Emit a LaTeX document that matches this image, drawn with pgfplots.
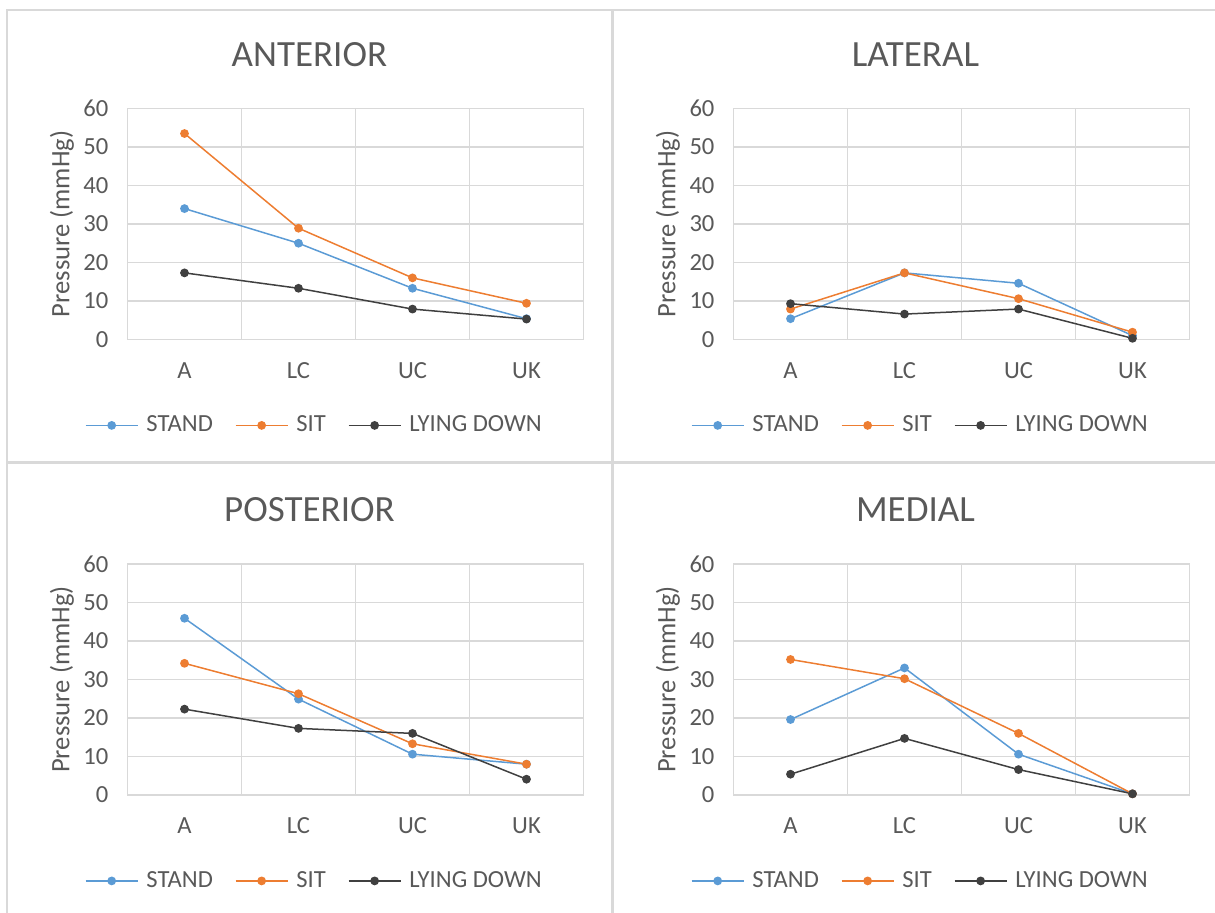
\documentclass[border=0pt]{standalone}
\usepackage{pgfplots}
\pgfplotsset{compat=1.18}
\usepackage{pgfplotstable}
\usepackage{fontspec}
\setmainfont{Carlito}
\definecolor{standc}{HTML}{5B9BD5}
\definecolor{sitc}{HTML}{ED7D31}
\definecolor{lyingc}{HTML}{404040}
\definecolor{txt}{HTML}{595959}
\definecolor{grd}{HTML}{D9D9D9}

\pgfplotstableread{
x stand sit lying
0 34.0 53.5 17.3
1 25.0 28.9 13.3
2 13.3 16.0 7.9
3 5.4 9.4 5.3
}\anterior
\pgfplotstableread{
x stand sit lying
0 5.4 7.9 9.3
1 17.3 17.3 6.6
2 14.6 10.6 7.9
3 1.0 1.9 0.3
}\lateral
\pgfplotstableread{
x stand sit lying
0 45.9 34.2 22.3
1 24.9 26.3 17.3
2 10.6 13.3 16.0
3 8.0 8.0 4.1
}\posterior
\pgfplotstableread{
x stand sit lying
0 19.6 35.2 5.4
1 33.0 30.2 14.7
2 10.6 16.0 6.6
3 0.3 0.3 0.3
}\medial

\pgfplotsset{
  panel/.style={
    scale only axis, width=228pt, height=115.5pt,
    anchor=south west,
    xmin=-0.5, xmax=3.5, ymin=0, ymax=60, ytick={0,10,...,60},
    xtick={0,1,2,3}, xticklabels={A,LC,UC,UK},
    extra x ticks={-0.5,0.5,1.5,2.5,3.5}, extra x tick labels={},
    extra x tick style={grid=major},
    ymajorgrids,
    major grid style={draw=grd, line width=0.9pt},
    major tick length=0pt,
    axis line style={draw=grd, line width=0.9pt},
    /pgf/number format/assume math mode=true,
    tick label style={font=\fontsize{12.3}{14}\selectfont, text=txt},
    yticklabel style={xshift=-6pt},
    xticklabel style={anchor=base, yshift=-19.4pt},
    ylabel={Pressure (mmHg)},
    ylabel style={at={(axis description cs:-0.144,0.5)}, anchor=center, font=\fontsize{13.3}{15}\selectfont, text=txt},
    title style={at={(axis description cs:0.399,1.131)}, anchor=base, font=\fontsize{18.5}{20}\selectfont, text=txt},
    legend columns=3,
    legend style={draw=none, fill=none, at={(axis description cs:0.412,-0.372)}, anchor=center,
      font=\fontsize{12.3}{14}\selectfont, text=txt,
      nodes={inner xsep=2pt},
      /tikz/every even column/.append style={column sep=9pt}},
    legend image code/.code={\draw[mark repeat=2,mark phase=2] plot coordinates {(0pt,0pt)(13pt,0pt)(26pt,0pt)};\path (28pt,0pt);},
  },
  sstand/.style={standc, line width=0.75pt, mark=*, mark size=1.8pt, mark options={fill=standc, draw=standc}},
  ssit/.style={sitc, line width=0.75pt, mark=*, mark size=1.8pt, mark options={fill=sitc, draw=sitc}},
  slying/.style={lyingc, line width=0.75pt, mark=*, mark size=1.8pt, mark options={fill=lyingc, draw=lyingc}},
}

\begin{document}
\begin{tikzpicture}
\path[use as bounding box] (0pt,0pt) rectangle (607.5pt,456.5pt);
\draw[grd, line width=1.3pt] (3.5pt,0pt) -- (3.5pt,451.5pt) -- (607.5pt,451.5pt);
\draw[grd, line width=1.3pt] (306.25pt,0pt) -- (306.25pt,451.5pt);
\draw[grd, line width=1.3pt] (3.5pt,225.25pt) -- (607.5pt,225.25pt);

\begin{axis}[panel, at={(63.75pt,286.75pt)}, title={ANTERIOR}]
\addplot[sstand] table[x=x,y=stand]{\anterior};
\addplot[ssit] table[x=x,y=sit]{\anterior};
\addplot[slying] table[x=x,y=lying]{\anterior};
\legend{STAND,SIT,LYING DOWN}
\end{axis}

\begin{axis}[panel, at={(366.75pt,286.75pt)}, title={LATERAL}]
\addplot[sstand] table[x=x,y=stand]{\lateral};
\addplot[ssit] table[x=x,y=sit]{\lateral};
\addplot[slying] table[x=x,y=lying]{\lateral};
\legend{STAND,SIT,LYING DOWN}
\end{axis}

\begin{axis}[panel, at={(63.75pt,59pt)}, title={POSTERIOR}]
\addplot[sstand] table[x=x,y=stand]{\posterior};
\addplot[ssit] table[x=x,y=sit]{\posterior};
\addplot[slying] table[x=x,y=lying]{\posterior};
\legend{STAND,SIT,LYING DOWN}
\end{axis}

\begin{axis}[panel, at={(366.75pt,59pt)}, title={MEDIAL}]
\addplot[sstand] table[x=x,y=stand]{\medial};
\addplot[ssit] table[x=x,y=sit]{\medial};
\addplot[slying] table[x=x,y=lying]{\medial};
\legend{STAND,SIT,LYING DOWN}
\end{axis}
\end{tikzpicture}
\end{document}
